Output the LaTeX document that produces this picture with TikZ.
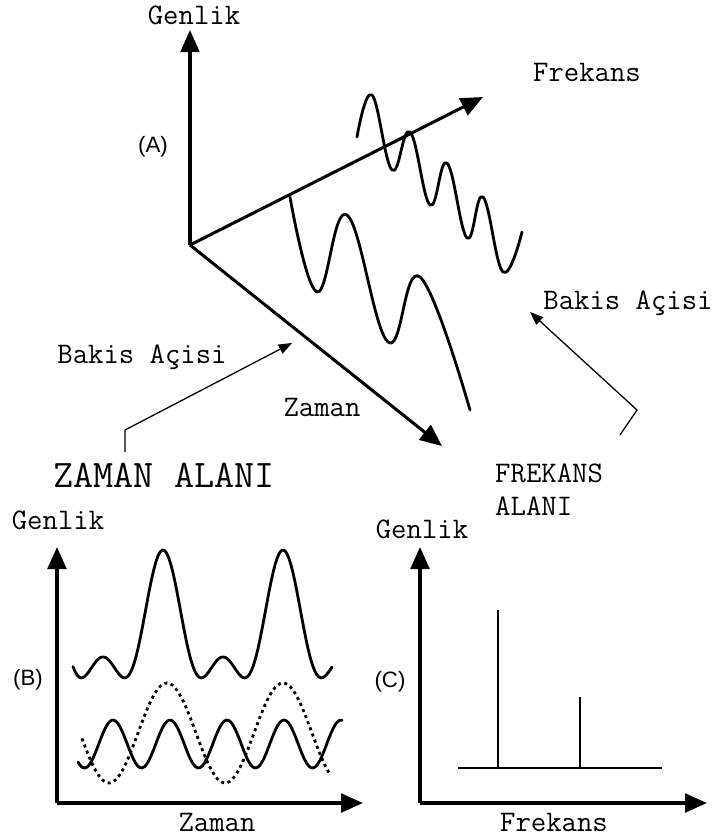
\documentclass[tikz,border=0pt]{standalone}
\usepackage{fontspec}
\newfontfamily\monofam{Latin Modern Mono}
\newfontfamily\sansfam{Liberation Sans}
\usetikzlibrary{arrows.meta}

\begin{document}
\begin{tikzpicture}[x=0.03cm,y=-0.03cm,
  axis/.style={line width=2.6pt,-{Triangle[length=0.66cm,width=0.56cm]}},
  wave/.style={line width=2.4pt,line join=round,line cap=round},
  pointer/.style={line width=1.1pt,-{Triangle[length=0.4cm,width=0.3cm]}},
  lbl/.style={font=\monofam\fontsize{25.5}{28}\selectfont,inner sep=0pt},
  tag/.style={font=\sansfam\fontsize{19}{22}\selectfont,inner sep=0pt}]
\useasboundingbox (0,0) rectangle (716,837);
% 3d view
\coordinate (O) at (190,245);
\coordinate (gt) at (190,30);
\coordinate (ft) at (483,97);
\coordinate (zt) at (442,446);
\draw[axis] (O) -- (gt);
\draw[axis] (O) -- (ft);
\draw[axis] (O) -- (zt);
\draw[wave] plot[smooth,tension=0.7] coordinates {(290,197) (317,292) (347,215) (388,342) (420,277) (470,410)};
\draw[wave] plot[smooth,tension=0.7] coordinates {(357,137) (372,95) (392,170) (410,132) (430,205) (447,163) (467,238) (483,197) (503,272) (522,232)};
\node[lbl] (genA) at (194,15) {Genlik};
\node[lbl] (frA) at (587,72) {Frekans};
\node[lbl] (zamA) at (322,407) {Zaman};
\node[tag] (tA) at (153,147) {(A)};
\node[lbl] (bakL) at (142,357) {Bakis Açisi};
\node[lbl] (bakR) at (628,303) {Bakis Açisi};
\coordinate (pl1) at (125,452);
\coordinate (pl2) at (125,430);
\coordinate (plt) at (292,343);
\draw[pointer] (pl1) -- (pl2) -- (plt);
\coordinate (pr1) at (620,435);
\coordinate (pr2) at (637,410);
\coordinate (prt) at (530,312);
\draw[pointer] (pr1) -- (pr2) -- (prt);
\node[lbl,font=\monofam\fontsize{33.3}{36}\selectfont] (zaman) at (164,475) {ZAMAN ALANI};
\node[lbl,align=left,anchor=west] (frek) at (495,490) {FREKANS\\ALANI};
% time domain
\coordinate (OB) at (57,803);
\coordinate (bgt) at (57,547);
\coordinate (bzt) at (363,803);
\draw[axis,line width=3pt] (OB) -- (bgt);
\draw[axis,line width=3pt] (OB) -- (bzt);
\draw[wave] plot[domain=73:332,samples=120] (\x,{635-53.5*cos(3*(\x-163))-31.6*cos(6*(\x-163))});
\draw[wave] plot[domain=78:342,samples=120] (\x,{744-24*cos(6.316*(\x-113))});
\draw[wave,line cap=butt,dash pattern=on 2.6pt off 3pt] plot[domain=82:330,samples=100] (\x,{733-50*cos(3.103*(\x-167))});
\node[lbl] (genB) at (58,520) {Genlik};
\node[lbl] (zamB) at (217,822) {Zaman};
\node[tag] (tB) at (28,680) {(B)};
% frequency domain
\coordinate (OC) at (420,803);
\coordinate (cgt) at (420,547);
\coordinate (cft) at (707,803);
\draw[axis,line width=3pt] (OC) -- (cgt);
\draw[axis,line width=3pt] (OC) -- (cft);
\coordinate (bl) at (458,768);
\coordinate (br) at (662,768);
\draw[wave,line cap=butt] (bl) -- (br);
\foreach \px/\py in {498/610,580/697}
  \draw[wave,line cap=butt] (\px,768) -- (\px,\py);
\node[lbl] (genC) at (422,529) {Genlik};
\node[lbl] (frC) at (554,822) {Frekans};
\node[tag] (tC) at (390,682) {(C)};
\end{tikzpicture}
\end{document}
